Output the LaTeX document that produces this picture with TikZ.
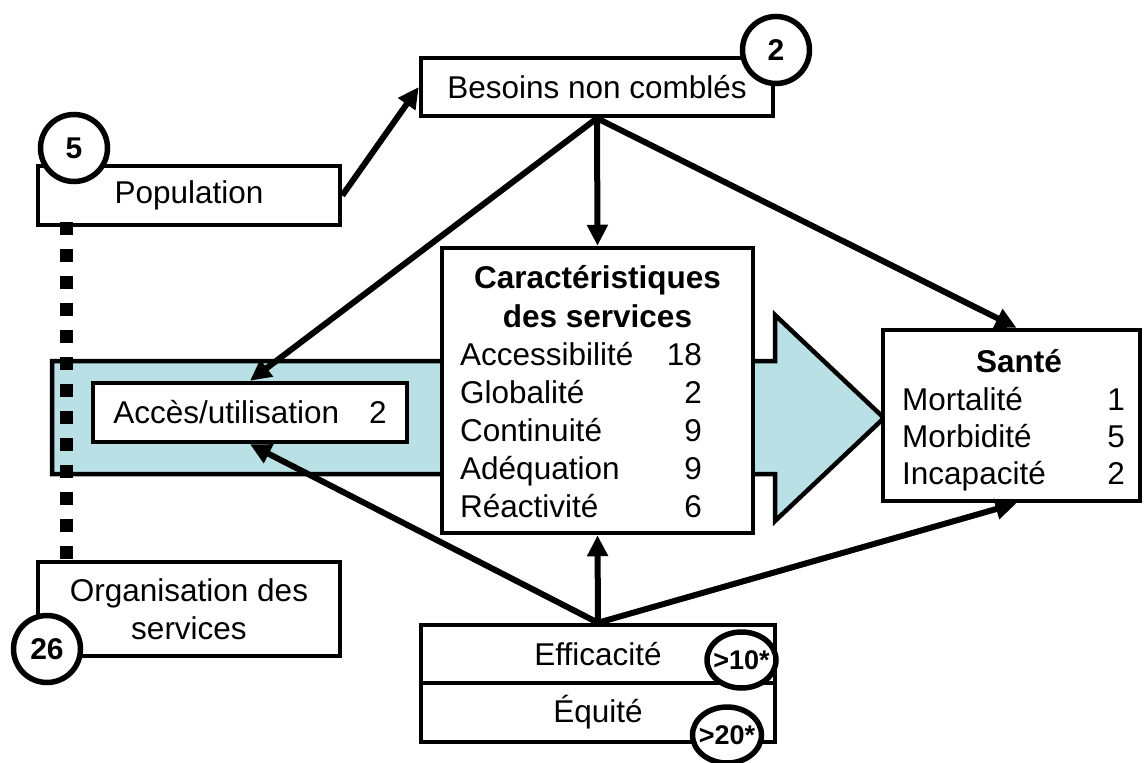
\documentclass[tikz,border=0pt]{standalone}
\usepackage{fontspec}
\setmainfont{Liberation Sans}
\usetikzlibrary{arrows.meta,shapes.geometric}
\definecolor{bandblue}{RGB}{185,224,228}
\newcommand\mainfs{\fontsize{31.5pt}{38pt}\selectfont}
\newcommand\circfs{\fontsize{30pt}{34pt}\selectfont\bfseries}
\newcommand\ovalfs{\fontsize{27pt}{31pt}\selectfont\bfseries}
\begin{document}
\begin{tikzpicture}[x=1pt,y=-1pt,
 box/.style={draw,line width=4.5pt,fill=white,inner sep=0pt,font=\mainfs},
 conn/.style={line width=6pt,-{Triangle[length=21pt,width=20pt]}},
 badge/.style={circle,draw,line width=5.5pt,fill=white,minimum size=67pt,inner sep=0pt,font=\circfs},
 oval/.style={ellipse,draw,line width=5.5pt,fill=white,minimum width=69pt,minimum height=56pt,inner sep=0pt,font=\ovalfs},
 txt/.style={inner sep=0pt,font=\mainfs},
 btxt/.style={inner sep=0pt,font=\mainfs\bfseries},
 dotline/.style={line width=13pt,dash pattern=on 13pt off 14pt},
 band/.style={line width=4.5pt,fill=bandblue,line join=miter},
]
\useasboundingbox (0,0) rectangle (1144,763);
% big arrow band
\draw[band] (52,361) -- (775,361) -- (775,315) -- (884,418) -- (775,521) -- (775,474) -- (52,474) -- cycle;
% boxes
\node[box,minimum width=352pt,minimum height=58pt] (besoins) at (597,87) {Besoins non comblés};
\node[box,minimum width=302pt,minimum height=59pt] (pop) at (189,195.5) {Population};
\node[box,minimum width=314pt,minimum height=59pt] (acces) at (250,412.5) {Accès/utilisation\hspace{30pt}2};
\node[box,minimum width=311pt,minimum height=285pt] (carac) at (597.5,390.5) {};
\node[box,minimum width=257pt,minimum height=171pt] (sante) at (1011.5,415.5) {};
\node[box,minimum width=302pt,minimum height=94pt,align=center] (org) at (189,609) {Organisation des\\services};
\node[box,minimum width=354pt,minimum height=58pt] (eff) at (598,654) {Efficacité};
\node[box,minimum width=354pt,minimum height=59pt] (equ) at (598,712.5) {Équité};
% texts of Caractéristiques
\node[btxt,anchor=base] (ct1) at (597.5,288) {Caractéristiques};
\node[btxt,anchor=base] (ct2) at (597.5,327) {des services};
\node[txt,anchor=base west] (ca1) at (460,365) {Accessibilité};
\node[txt,anchor=base east] (cn1) at (702,365) {18};
\node[txt,anchor=base west] (ca2) at (460,403) {Globalité};
\node[txt,anchor=base east] (cn2) at (702,403) {2};
\node[txt,anchor=base west] (ca3) at (460,441) {Continuité};
\node[txt,anchor=base east] (cn3) at (702,441) {9};
\node[txt,anchor=base west] (ca4) at (460,479) {Adéquation};
\node[txt,anchor=base east] (cn4) at (702,479) {9};
\node[txt,anchor=base west] (ca5) at (460,517) {Réactivité};
\node[txt,anchor=base east] (cn5) at (702,517) {6};
% texts of Santé
\node[btxt,anchor=base] (st) at (1019,372) {Santé};
\node[txt,anchor=base west] (sa1) at (902,410) {Mortalité};
\node[txt,anchor=base east] (sn1) at (1125,410) {1};
\node[txt,anchor=base west] (sa2) at (902,447) {Morbidité};
\node[txt,anchor=base east] (sn2) at (1125,447) {5};
\node[txt,anchor=base west] (sa3) at (902,484) {Incapacité};
\node[txt,anchor=base east] (sn3) at (1125,484) {2};
% connectors
\draw[conn] (pop.east) -- (besoins.west);
\draw[conn] (besoins.south) -- (carac.north);
\draw[conn] (besoins.south) -- (acces.north);
\draw[conn] (besoins.south) -- ([xshift=5pt]sante.north);
\draw[conn] (eff.north) -- (carac.south);
\draw[conn] (eff.north) -- (acces.south);
\draw[conn] (eff.north) -- ([xshift=5pt]sante.south);
% dotted link
\coordinate (d1) at (66,222);
\coordinate (d2) at (66,562);
\draw[dotline] (d1) -- (d2);
% badges
\node[badge] (c2) at (776,50) {2};
\node[badge] (c5) at (74,148) {5};
\node[badge] (c26) at (47,649) {26};
\node[oval] (c10) at (741.5,660) {\makebox[0pt]{>10*}};
\node[oval] (c20) at (727,735) {\makebox[0pt]{>20*}};
\end{tikzpicture}
\end{document}
